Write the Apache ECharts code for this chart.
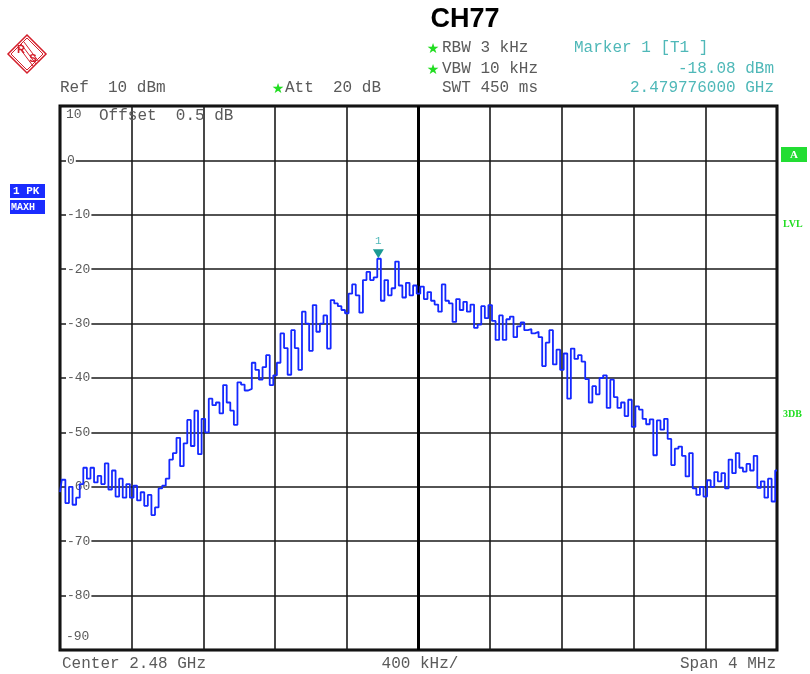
<!DOCTYPE html>
<html>
<head>
<meta charset="utf-8">
<title>CH77</title>
<script src="https://cdn.jsdelivr.net/npm/echarts@6/dist/echarts.min.js"></script>
<style>
  html, body { margin: 0; padding: 0; background: #fff; }
  #chart { width: 810px; height: 674px; }
</style>
</head>
<body>
<div id="chart"></div>
<script>
// 频率轴：中心 2.48 GHz，跨度 4 MHz，每格 400 kHz（以 MHz 偏移表示）
var freqStart = -2;
var freqStep = 0.02;
var xTicks = [-2, -1.6, -1.2, -0.8, -0.4, 0, 0.4, 0.8, 1.2, 1.6, 2];
var yTicks = [10, 0, -10, -20, -30, -40, -50, -60, -70, -80, -90];

// 迹线电平 (dBm)
var levelsLeft = [
  -61, -58.7, -63, -60, -63.3, -62, -59.5, -56.5, -58.5, -56.5,
  -59.2, -58, -59.5, -55.7, -60.5, -57, -61.8, -58.5, -62, -59.5,
  -62, -59.8, -62.5, -61, -63.5, -61.5, -65.2, -63.8, -60.3, -59.8,
  -58.5, -55, -53.8, -51, -56.2, -52, -47.7, -52.5, -46, -54,
  -47.5, -50, -43.8, -45, -44.5, -46.5, -41.3, -44.5, -46, -48.6,
  -40.8, -41.2, -42.3, -42, -37.2, -38.5, -40.3, -38, -35.8, -41.3,
  -39.5, -37.2, -31.8, -34.5, -39.4, -31.2, -34.5, -38.5, -27.8, -30,
  -35, -26.6, -31.5, -30, -28.5, -34.6, -25.7, -26.3, -26.8, -27.5,
  -28.1, -24.5, -22.8, -24.8, -28, -22, -20.5, -22, -21.5, -18.08,
  -25.8, -22, -24.8, -23.5, -18.6, -23, -25.2, -22.5, -24.8, -23
];
var levelsRight = [
  -24.5, -23.2, -25.5, -24.2, -25.8, -26.5, -27.8, -22.8, -25.8, -26.3,
  -29.7, -25.5, -27.5, -26, -27.8, -26.5, -30.8, -30.2, -26.8, -29,
  -26.6, -29.5, -33, -28.5, -33, -29.2, -28.7, -32.5, -30.5, -29.8,
  -31.2, -31, -31.8, -31.5, -32.5, -37.8, -33.5, -31.2, -37.5, -34.8,
  -38.5, -35.5, -43.8, -34.6, -36.5, -35.8, -37, -40.2, -44.5, -41.5,
  -43, -40, -39.5, -45.5, -40.3, -43.5, -45.5, -44.5, -47, -44,
  -49, -45.2, -45.8, -47.5, -48.5, -47.6, -54.2, -47.8, -49.5, -47.5,
  -51.2, -56, -53, -52.6, -54.3, -58.1, -53.8, -60.3, -61.5, -60,
  -61.8, -58.8, -60, -57.3, -59, -57.5, -60.3, -55, -57.5, -53.8,
  -56.5, -57.2, -55.8, -57, -54.3, -60.2, -59, -62, -58.5, -62.7,
  -57
];

// Marker 1：2.479776000 GHz, -18.08 dBm
var markerFreq = -0.224;
var markerLevel = -18.08;

var levels = levelsLeft.concat(levelsRight);
var traceData = levels.map(function (v, i) {
  return [+(freqStart + i * freqStep).toFixed(3), v];
});

var mono = '"Liberation Mono", "DejaVu Sans Mono", monospace';
var gray = '#5a5a5a';
var teal = '#4fb8b8';
var green = '#22dd22';

function txt(x, y, s, opt) {
  opt = opt || {};
  return {
    type: 'text', x: x, y: y, silent: true, z: 10,
    style: {
      text: s, fill: opt.color || gray,
      font: (opt.weight || 'normal') + ' ' + (opt.size || 16) + 'px ' + (opt.family || mono),
      textAlign: opt.align || 'left', textVerticalAlign: 'middle'
    }
  };
}

var graphics = [
  // 标题
  txt(465, 20, 'CH77', { color: '#000', weight: 'bold', size: 27, family: '"Liberation Sans Narrow", "Liberation Sans", Arial', align: 'center' }),
  // 顶部参数
  txt(433, 49, '\u2605', { color: green, size: 14, family: '"DejaVu Sans", sans-serif', align: 'center' }),
  txt(442, 48, 'RBW 3 kHz'),
  txt(433, 70, '\u2605', { color: green, size: 14, family: '"DejaVu Sans", sans-serif', align: 'center' }),
  txt(442, 69, 'VBW 10 kHz'),
  txt(574, 48, 'Marker 1 [T1 ]', { color: teal }),
  txt(774, 69, '-18.08 dBm', { color: teal, align: 'right' }),
  txt(60, 88, 'Ref  10 dBm'),
  txt(278, 89, '\u2605', { color: green, size: 14, family: '"DejaVu Sans", sans-serif', align: 'center' }),
  txt(285, 88, 'Att  20 dB'),
  txt(442, 88, 'SWT 450 ms'),
  txt(774, 88, '2.479776000 GHz', { color: teal, align: 'right' }),
  txt(99, 116, 'Offset  0.5 dB'),
  // 底部
  txt(62, 664, 'Center 2.48 GHz'),
  txt(420, 664, '400 kHz/', { align: 'center' }),
  txt(776, 664, 'Span 4 MHz', { align: 'right' }),
  // 左侧迹线标识
  { type: 'rect', shape: { x: 10, y: 184, width: 35, height: 14 }, style: { fill: '#1a2cff' }, silent: true },
  txt(13, 191, '1 PK', { color: '#fff', weight: 'bold', size: 11 }),
  { type: 'rect', shape: { x: 10, y: 200, width: 35, height: 14 }, style: { fill: '#1a2cff' }, silent: true },
  txt(11, 207, 'MAXH', { color: '#fff', weight: 'bold', size: 10 }),
  // 右侧标识
  { type: 'rect', shape: { x: 781, y: 147, width: 26, height: 15 }, style: { fill: '#22dd33' }, silent: true },
  txt(794, 155, 'A', { color: '#fff', weight: 'bold', size: 11, family: '"Liberation Serif", serif', align: 'center' }),
  txt(783, 224, 'LVL', { color: green, weight: 'bold', size: 10, family: '"Liberation Serif", serif' }),
  txt(783, 414, '3DB', { color: green, weight: 'bold', size: 10, family: '"Liberation Serif", serif' }),
  // R&S 标志
  { type: 'polygon', shape: { points: [[27, 35], [46, 54], [27, 73], [8, 54]] }, style: { fill: 'none', stroke: '#d41e2a', lineWidth: 1.5 }, silent: true },
  { type: 'polygon', shape: { points: [[27, 38], [43, 54], [27, 70], [11, 54]] }, style: { fill: 'none', stroke: '#d41e2a', lineWidth: 1 }, silent: true },
  { type: 'line', shape: { x1: 24, y1: 42, x2: 39, y2: 62 }, style: { stroke: '#d41e2a', lineWidth: 1 }, silent: true },
  { type: 'line', shape: { x1: 21, y1: 44, x2: 36, y2: 64 }, style: { stroke: '#d41e2a', lineWidth: 1 }, silent: true },
  { type: 'line', shape: { x1: 18, y1: 46, x2: 33, y2: 66 }, style: { stroke: '#d41e2a', lineWidth: 1 }, silent: true },
  txt(21, 50, 'R', { color: '#d41e2a', weight: 'bold', size: 11, family: '"Liberation Sans", Arial', align: 'center' }),
  txt(33, 59, 'S', { color: '#d41e2a', weight: 'bold', size: 11, family: '"Liberation Sans", Arial', align: 'center' })
];

var myChart = echarts.init(document.getElementById('chart'), null, { renderer: 'canvas' });

var option = {
  backgroundColor: '#fff',
  animation: false,
  grid: {
    left: 60, top: 106, width: 717, height: 544,
    show: true, borderColor: '#000', borderWidth: 3, backgroundColor: '#fff'
  },
  xAxis: {
    type: 'value',
    min: xTicks[0], max: xTicks[xTicks.length - 1], interval: 0.4,
    axisLine: { show: false }, axisTick: { show: false }, axisLabel: { show: false },
    splitLine: { show: true, lineStyle: { color: '#1a1a1a', width: 1.6 } }
  },
  yAxis: {
    type: 'value',
    min: yTicks[yTicks.length - 1], max: yTicks[0], interval: 10,
    axisLine: { show: false }, axisTick: { show: false },
    axisLabel: {
      inside: true, margin: 6,
      formatter: function (v) {
        if (v === 10) return '{top|10}';
        if (v === -90) return '{bot|-90}';
        return '{n|' + v + '}';
      },
      rich: {
        n: { backgroundColor: '#fff', padding: [0, 1, 0, 1], fontFamily: mono, fontSize: 13, color: gray },
        top: { padding: [18, 0, 0, 0], fontFamily: mono, fontSize: 13, color: gray },
        bot: { padding: [0, 0, 26, 0], fontFamily: mono, fontSize: 13, color: gray }
      }
    },
    splitLine: { show: true, lineStyle: { color: '#1a1a1a', width: 1.6 } }
  },
  series: [{
    type: 'line',
    data: traceData,
    step: 'middle',
    showSymbol: false,
    symbol: 'none',
    lineStyle: { color: '#1428ff', width: 1.8 },
    z: 5,
    markLine: {
      silent: true, symbol: 'none', animation: false,
      label: { show: false },
      lineStyle: { color: '#000', width: 3, type: 'solid' },
      data: [{ xAxis: 0 }]
    },
    markPoint: {
      silent: true, animation: false,
      symbol: 'triangle', symbolRotate: 180, symbolSize: [11, 9], symbolOffset: [0, -5],
      itemStyle: { color: '#1a9a93' },
      label: { show: true, position: 'top', distance: 3, formatter: '1', color: teal, fontFamily: mono, fontSize: 11 },
      data: [{ coord: [markerFreq, markerLevel] }]
    }
  }],
  graphic: graphics
};

myChart.setOption(option);
window.addEventListener('resize', function () { myChart.resize(); });
</script>
</body>
</html>
